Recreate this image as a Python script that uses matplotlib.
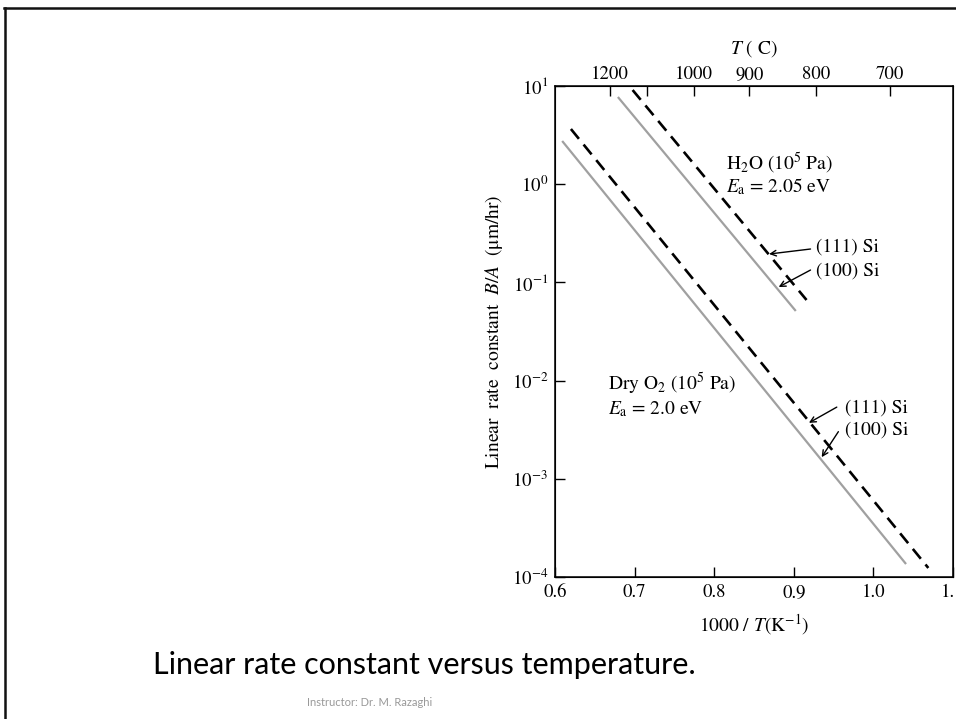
import matplotlib
matplotlib.use("Agg")
import matplotlib.pyplot as plt
from matplotlib.lines import Line2D
import numpy as np

plt.rcParams['font.family'] = ['STIXGeneral', 'DejaVu Serif']
plt.rcParams['mathtext.fontset'] = 'stix'

# Data: inverse temperature (1000/T, K^-1) and B/A (um/hr) at line ends
dry100_x = [0.609, 1.041]
dry100_y = [10**0.440, 10**-3.868]
dry111_x = [0.620, 1.069]
dry111_y = [10**0.562, 10**-3.908]
wet100_x = [0.679, 0.9025]
wet100_y = [10**0.888, 10**-1.291]
wet111_x = [0.6975, 0.916]
wet111_y = [10**0.959, 10**-1.179]

top_tick_pos = [0.669, 0.774, 0.844, 0.928, 1.021]
top_tick_labels = ['1200', '1000', '900', '800', '700']
top_minor_pos = [0.715]
bottom_ticks = [0.6, 0.7, 0.8, 0.9, 1.0, 1.1]
bottom_labels = ['0.6', '0.7', '0.8', '0.9', '1.0', '1.1']

fig = plt.figure(figsize=(9.56, 7.19), dpi=100)
W, H = 956, 719
ax = fig.add_axes([555 / W, 1 - 577 / H, (953 - 555) / W, (577 - 86) / H])

gray = '#a0a0a0'
ax.plot(dry100_x, dry100_y, color=gray, lw=1.6, solid_capstyle='butt')
ax.plot(wet100_x, wet100_y, color=gray, lw=1.6, solid_capstyle='butt')
ax.plot(dry111_x, dry111_y, color='black', lw=1.9, dashes=(4.8, 2.8))
ax.plot(wet111_x, wet111_y, color='black', lw=1.9, dashes=(4.8, 2.8))

ax.set_yscale('log')
ax.set_xlim(0.6, 1.1)
ax.set_ylim(1e-4, 1e1)
ax.set_xticks(bottom_ticks)
ax.set_xticklabels(bottom_labels)
ax.set_yticks([1e-4, 1e-3, 1e-2, 1e-1, 1e0, 1e1])
ax.yaxis.set_minor_locator(matplotlib.ticker.NullLocator())
ax.tick_params(axis='both', direction='in', length=7, width=1, labelsize=13.5, pad=5)
for s in ax.spines.values():
    s.set_linewidth(1.1)

ax2 = ax.twiny()
ax2.set_xlim(ax.get_xlim())
ax2.set_xticks(top_tick_pos)
ax2.set_xticklabels(top_tick_labels)
ax2.set_xticks(top_minor_pos, minor=True)
ax2.tick_params(axis='x', which='both', direction='in', length=7, width=1, labelsize=13.5, pad=2)
ax2.set_xlabel(r'$T$ ( C)', fontsize=14, labelpad=9)

ax.set_xlabel(r'1000 / $T$(K$^{-1}$)', fontsize=14, labelpad=8)
ax.set_ylabel(r'Linear  rate  constant  $B/A$  (μm/hr)', fontsize=14, labelpad=5)

fs = 14
ax.text(0.815, 10**0.21, r'H$_2$O (10$^5$ Pa)', fontsize=fs, va='center')
ax.text(0.815, 10**-0.02, r'$E_{\rm a}$ = 2.05 eV', fontsize=fs, va='center')
ax.text(0.666, 10**-2.035, r'Dry O$_2$ (10$^5$ Pa)', fontsize=fs, va='center')
ax.text(0.666, 10**-2.29, r'$E_{\rm a}$ = 2.0 eV', fontsize=fs, va='center')

ax.text(0.9285, 10**-0.64, '(111) Si', fontsize=fs, va='center')
ax.text(0.9285, 10**-0.884, '(100) Si', fontsize=fs, va='center')
ax.text(0.964, 10**-2.28, '(111) Si', fontsize=fs, va='center')
ax.text(0.964, 10**-2.50, '(100) Si', fontsize=fs, va='center')

ap = dict(arrowstyle='->', lw=1.0, color='black', shrinkA=0, shrinkB=0, mutation_scale=10)
ax.annotate('', xy=(0.869, 10**-0.711), xytext=(0.921, 10**-0.66), arrowprops=ap)
ax.annotate('', xy=(0.881, 10**-1.047), xytext=(0.921, 10**-0.874), arrowprops=ap)
ax.annotate('', xy=(0.919, 10**-2.43), xytext=(0.954, 10**-2.27), arrowprops=ap)
ax.annotate('', xy=(0.935, 10**-2.78), xytext=(0.956, 10**-2.52), arrowprops=ap)

fig.text(153 / W, 1 - 665 / H, 'Linear rate constant versus temperature.',
         family='Lato', fontsize=22, va='center', ha='left')
fig.text(370 / W, 1 - 703 / H, 'Instructor: Dr. M. Razaghi',
         family='Lato', fontsize=8, va='center', ha='center', color='#999999')

fig.add_artist(Line2D([4 / W, 1.0], [1 - 7.5 / H, 1 - 7.5 / H], color='#111111', lw=1.8,
                      transform=fig.transFigure))
fig.add_artist(Line2D([4.5 / W, 4.5 / W], [0, 1 - 7.5 / H], color='#111111', lw=1.8,
                      transform=fig.transFigure))

fig.savefig('out.png', dpi=100)
